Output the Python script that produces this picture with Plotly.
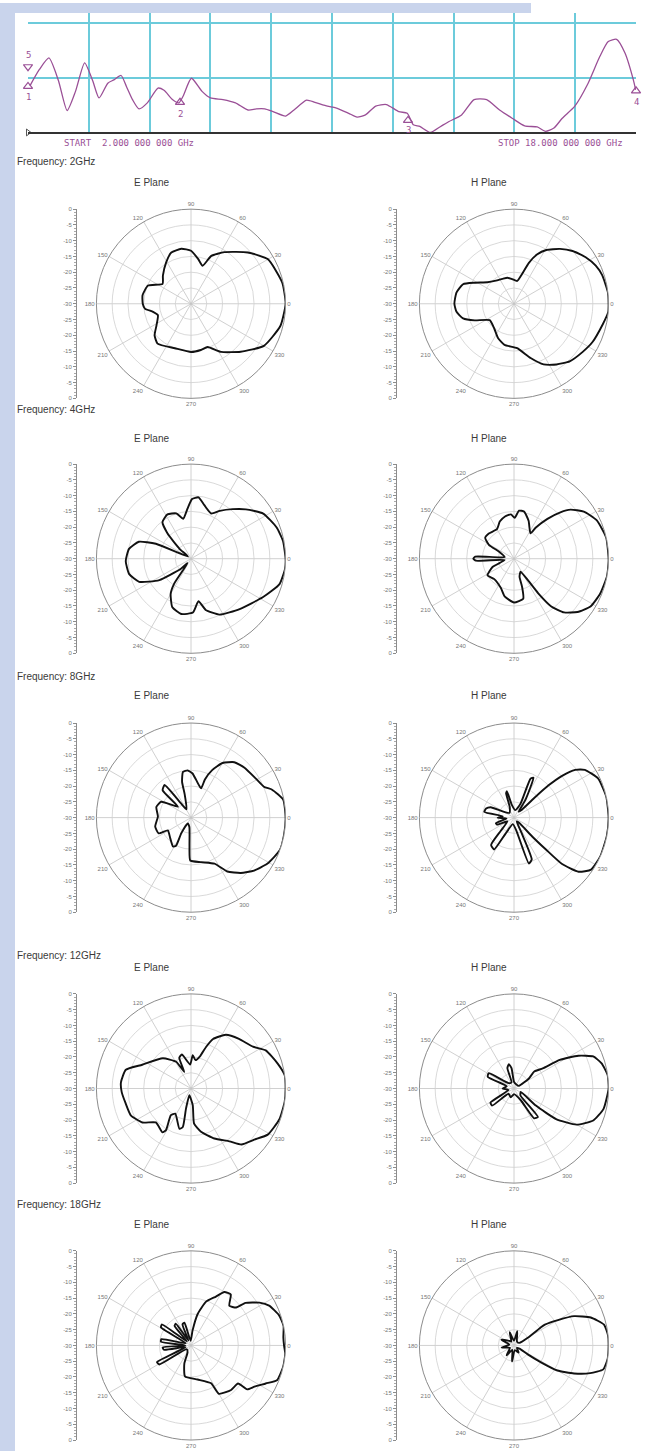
import plotly.graph_objects as go

W, H = 655, 1454

# ---------------- data: VSWR sweep (2-18 GHz) ----------------
VSWR_FREQ_GHZ = [2.05, 2.3, 2.55, 2.8, 3.03, 3.25, 3.49, 3.7, 3.87, 4.1,
                 4.26, 4.45, 4.59, 4.75, 4.92, 5.14, 5.42, 5.58, 5.8, 5.97,
                 6.08, 6.3, 6.58, 6.8, 7.13, 7.46, 7.79, 8.01, 8.23, 8.45,
                 8.78, 9.0, 9.33, 9.55, 9.88, 10.1, 10.44, 10.66, 10.88, 11.15,
                 11.43, 11.76, 11.98, 12.14, 12.31, 12.59, 12.86, 13.08, 13.41, 13.74,
                 14.07, 14.41, 14.74, 15.07, 15.4, 15.62, 15.84, 16.06, 16.39, 16.72,
                 17.05, 17.27, 17.49, 17.71, 17.93, 17.99]
VSWR = [1.85, 2.15, 2.36, 1.95, 1.40, 1.75, 2.27, 1.95, 1.63, 1.90,
        1.96, 2.04, 1.84, 1.60, 1.43, 1.54, 1.81, 1.77, 1.60, 1.54,
        1.66, 1.99, 1.75, 1.63, 1.60, 1.54, 1.41, 1.43, 1.43, 1.38,
        1.30, 1.41, 1.59, 1.55, 1.48, 1.45, 1.35, 1.28, 1.32, 1.48,
        1.51, 1.38, 1.35, 1.14, 1.11, 1.00, 1.11, 1.20, 1.32, 1.60,
        1.60, 1.41, 1.26, 1.12, 1.10, 1.02, 1.08, 1.26, 1.48, 1.87,
        2.39, 2.66, 2.70, 2.45, 1.96, 1.78]
VSWR_GRID_FREQ = [2.0, 3.6, 5.2, 6.8, 8.4, 10.0, 11.6, 13.2, 14.8, 16.4, 18.0]
VSWR_GRID_LEVELS = [2.0, 3.0]
MARKER_FREQ = [2.0, 2.0, 6.0, 12.0, 18.0]
MARKER_VSWR = [2.20, 1.84, 1.55, 1.22, 1.76]
MARKER_LABEL = ["5", "1", "2", "3", "4"]
START_LABEL = "START  2.000 000 000 GHz"
STOP_LABEL = "STOP 18.000 000 000 GHz"

# ---------------- data: radiation patterns (deg, dB) ----------------
FREQ_TITLES = ["Frequency: 2GHz", "Frequency: 4GHz", "Frequency: 8GHz",
               "Frequency: 12GHz", "Frequency: 18GHz"]
PLANE_TITLES = ["E Plane", "H Plane"]
ANGLE_TICKS = [0, 30, 60, 90, 120, 150, 180, 210, 240, 270, 300, 330]
RING_DB = [-25, -20, -15, -10, -5]
RULER_POS = [-30, -25, -20, -15, -10, -5, 0, 5, 10, 15, 20, 25, 30]
RULER_LABELS = ["0", "-5", "-10", "-15", "-20", "-25", "-30",
                "-25", "-20", "-15", "-10", "-5", "0"]

E2_THETA = [0, 13, 30, 42, 57, 67, 73, 81, 90, 100, 111, 121, 135, 145, 157, 170, 180, 186,
            192, 199, 212, 221, 230, 250, 270, 282, 291, 302, 316, 330, 346, 360]
E2_DB = [0, -0.3, -1.8, -5.7, -10.5, -13.5, -17.4, -15.6, -13.2, -12.3, -12.6, -14.7, -17.4,
         -19.0, -15.2, -14.4, -14.7, -15.3, -17.7, -18.9, -17.1, -14.7, -13.5, -15.0, -14.7,
         -15.0, -15.3, -12.0, -8.1, -3.3, -0.8, 0]

H2_THETA = [0, 7, 18, 25, 33, 42, 50, 59, 65, 70, 75, 82, 94, 104, 115, 128, 141, 152, 159,
            169, 180, 188, 196, 203, 214, 231, 245, 257, 274, 287, 296, 305, 314, 325, 334,
            347, 355, 360]
H2_DB = [0, 0, -0.6, -1.4, -2.9, -5.0, -7.3, -10.1, -12.8, -16.2, -20.3, -22.7, -22.2, -21.5,
         -21.3, -20.7, -19.2, -15.8, -12.7, -11.4, -11.1, -11.6, -13.2, -16.5, -20.7, -20.0,
         -18.0, -16.6, -15.9, -12.0, -8.6, -6.5, -4.6, -3.4, -2.3, -1.1, 0, 0]

E4_THETA = [0, 11, 20, 32, 42, 50, 59, 66, 76, 83, 89, 94, 101, 108, 118, 128, 133, 139, 145,
            157, 162, 171, 182, 194, 204, 214, 225, 232, 236, 240, 249, 260, 272, 280, 286,
            297, 314, 332, 344, 354, 360]
E4_DB = [0, -0.3, -1.1, -3.0, -6.6, -9.5, -12.3, -14.3, -12.5, -10.4, -11.1, -14.1, -17.1,
         -14.9, -14.1, -15.3, -19.1, -25.2, -28.8, -17.9, -12.6, -10.1, -9.3, -9.8, -12.0,
         -17.9, -25.5, -28.2, -20.4, -17.1, -13.5, -12.2, -12.9, -16.3, -13.1, -10.1, -7.8,
         -4.1, -0.8, 0, 0]

H4_THETA = [0, 13, 25, 34, 41, 45, 50, 55, 57, 69, 78, 84, 89, 94, 102, 111, 120, 135, 144,
            151, 155, 170, 177, 180, 183, 188, 201, 212, 226, 246, 256, 270, 283, 286, 287,
            297, 303, 305, 308, 313, 320, 328, 338, 349, 357, 360]
H4_DB = [0, 0, -1.1, -3.3, -6.3, -9.2, -13.5, -17.9, -20.4, -17.1, -14.7, -14.7, -17.0,
         -15.9, -16.3, -17.4, -19.2, -18.7, -18.7, -20.9, -24.9, -27.0, -17.7, -17.1, -17.9,
         -27.0, -22.7, -20.1, -21.0, -19.8, -17.7, -16.1, -17.0, -20.7, -24.0, -25.4, -21.6,
         -16.6, -10.8, -6.7, -3.7, -1.4, -0.5, 0, 0, 0]

E8_THETA = [0, 11, 19, 23, 31, 43, 52, 60, 66, 70, 71, 82, 88, 94, 100, 104, 105, 118, 125,
            129, 136, 140, 152, 163, 178, 194, 206, 209, 225, 238, 242, 238, 240, 260, 267,
            269, 283, 297, 304, 312, 320, 329, 340, 350, 360]
E8_DB = [0, -0.2, -2.8, -4.9, -6.0, -6.8, -7.7, -10.0, -13.5, -17.1, -20.2, -18.0, -16.0,
         -15.0, -15.3, -18.3, -22.1, -27.0, -24.6, -16.7, -17.5, -24.6, -19.3, -18.5, -19.5,
         -18.3, -18.6, -21.6, -20.7, -19.2, -19.9, -24.2, -27.9, -27.0, -20.8, -16.4, -15.5,
         -13.6, -9.4, -6.4, -3.9, -1.7, 0, 0, 0]

H8_THETA = [0, 13, 25, 34, 38, 41, 43, 44, 45, 52, 57, 64, 67, 65, 80, 100, 105, 108, 112,
            135, 156, 162, 169, 173, 180, 188, 197, 203, 210, 225, 230, 238, 242, 260, 281,
            288, 293, 296, 305, 314, 314, 315, 316, 320, 326, 336, 349, 360]
H8_DB = [0, 0, -0.6, -2.9, -5.4, -9.8, -15.0, -20.6, -26.3, -27.6, -23.4, -15.9, -16.6,
         -25.1, -27.6, -25.8, -21.3, -21.9, -26.4, -27.9, -21.9, -20.7, -20.4, -26.4, -24.8,
         -27.6, -24.0, -24.3, -27.6, -24.0, -18.7, -18.1, -24.0, -27.9, -25.5, -14.7, -15.6,
         -24.0, -28.5, -27.8, -21.7, -15.8, -8.8, -3.3, -0.5, 0, 0, 0]

E12_THETA = [0, 8, 16, 27, 34, 46, 57, 66, 70, 74, 81, 87, 92, 105, 111, 112, 119, 133, 154,
             164, 175, 183, 192, 204, 215, 224, 237, 239, 233, 238, 254, 258, 256, 256, 276,
             275, 283, 295, 306, 312, 321, 329, 341, 352, 360]
E12_DB = [0, 0, -1.4, -3.4, -6.3, -8.1, -9.7, -12.8, -15.9, -19.2, -20.9, -19.4, -22.4,
          -18.8, -19.6, -24.3, -20.3, -16.9, -12.8, -8.5, -7.7, -8.0, -8.7, -9.1, -11.2,
          -14.5, -13.4, -14.6, -19.4, -20.6, -16.7, -17.5, -23.5, -27.8, -24.7, -18.8, -15.9,
          -12.5, -9.3, -6.1, -4.2, -1.6, -0.3, 0, 0]

H12_THETA = [0, 8, 16, 22, 27, 32, 35, 40, 34, 28, 60, 90, 97, 102, 108, 112, 135, 149, 156,
             162, 180, 195, 211, 218, 224, 250, 270, 300, 304, 310, 313, 333, 322, 324, 330,
             338, 347, 360]
H12_DB = [0, 0, -1.1, -2.9, -7.1, -12.9, -18.9, -21.6, -24.3, -28.2, -28.5, -27.9, -23.5,
          -22.1, -23.2, -27.9, -27.6, -20.6, -20.9, -27.6, -26.4, -28.2, -21.3, -21.2, -27.6,
          -27.0, -28.2, -25.7, -18.6, -18.2, -27.0, -27.6, -21.2, -13.5, -7.1, -2.9, -0.9, 0]

E18_THETA = [0, 5, 12, 19, 27, 32, 38, 40, 46, 52, 58, 63, 71, 78, 84, 95, 106, 112, 118, 125,
             130, 136, 144, 149, 157, 168, 173, 180, 184, 189, 197, 206, 211, 220, 243, 250,
             259, 281, 298, 300, 312, 321, 322, 327, 333, 338, 347, 355, 360]
E18_DB = [-0.5, -0.6, 0, -0.5, -2.2, -4.4, -8.1, -11.3, -12.5, -9.5, -10.0, -12.6, -15.3,
          -19.8, -25.2, -28.5, -22.5, -22.8, -28.2, -21.6, -21.9, -28.2, -18.6, -18.9, -28.2,
          -20.4, -20.4, -28.2, -21.0, -21.3, -28.2, -18.0, -18.3, -28.2, -27.6, -23.8, -20.0,
          -19.0, -16.4, -12.3, -11.0, -10.8, -7.4, -6.0, -3.4, -0.6, 0, 0, -0.5]

H18_THETA = [0, 6, 13, 20, 26, 30, 34, 34, 33, 29, 25, 45, 60, 77, 90, 108, 125, 140, 155,
             170, 190, 210, 233, 248, 263, 280, 303, 320, 330, 327, 328, 330, 335, 340, 345,
             352, 360]
H18_DB = [0, 0, -0.7, -4.1, -8.8, -13.9, -18.2, -19.7, -21.3, -25.0, -28.1, -28.5, -28.2,
          -25.4, -28.5, -25.6, -28.5, -27.6, -25.6, -28.5, -26.0, -28.5, -26.1, -28.5, -24.9,
          -28.5, -27.3, -28.8, -28.0, -24.8, -19.9, -14.1, -9.0, -4.3, -0.7, 0, 0]

PATTERNS = [
    [(E2_THETA, E2_DB), (H2_THETA, H2_DB)],
    [(E4_THETA, E4_DB), (H4_THETA, H4_DB)],
    [(E8_THETA, E8_DB), (H8_THETA, H8_DB)],
    [(E12_THETA, E12_DB), (H12_THETA, H12_DB)],
    [(E18_THETA, E18_DB), (H18_THETA, H18_DB)],
]

# ---------------- layout geometry (pixels) ----------------
ROW_CY = [302, 558, 818, 1090, 1348]
COL_CX = [191, 514]
RAD = 95
RULER_X = [77, 397]
PLANE_TITLE_X = [151, 489]
FREQ_TITLE_Y = [159, 408, 676, 956, 1206]
PLANE_TITLE_Y = [180, 437, 695, 968, 1227]
VSWR_BOX = (28, 636, 10, 130)   # left, right, top, bottom

PURPLE = "#9a4f96"
CYAN = "#6ccbdb"
TXT = "#3a3a3a"


def fx(px):
    return px / W


def fy(py):
    return 1 - py / H


fig = go.Figure()

# ---- VSWR sweep ----
fig.add_trace(go.Scatter(x=VSWR_FREQ_GHZ, y=VSWR, mode="lines",
                         line=dict(color=PURPLE, width=1.3, shape="spline", smoothing=0.6),
                         hoverinfo="skip", showlegend=False, xaxis="x", yaxis="y"))
up_syms = ["triangle-down-open", "triangle-up-open", "triangle-up-open",
           "triangle-up-open", "triangle-up-open"]
fig.add_trace(go.Scatter(x=MARKER_FREQ, y=MARKER_VSWR, mode="markers",
                         marker=dict(symbol=up_syms, size=8, color=PURPLE, line=dict(width=1.2)),
                         cliponaxis=False, hoverinfo="skip", showlegend=False,
                         xaxis="x", yaxis="y"))
fig.add_trace(go.Scatter(x=[VSWR_GRID_FREQ[0]], y=[1.0], mode="markers",
                         marker=dict(symbol="triangle-right-open", size=6, color="#555"),
                         cliponaxis=False, hoverinfo="skip", showlegend=False,
                         xaxis="x", yaxis="y"))

x0, x1, yt, yb = VSWR_BOX
layout = dict(
    width=W, height=H, autosize=False,
    margin=dict(l=0, r=0, t=0, b=0, pad=0),
    paper_bgcolor="white", plot_bgcolor="white",
    showlegend=False,
    font=dict(family="Liberation Sans, Arial, sans-serif", color=TXT),
    xaxis=dict(domain=[fx(x0), fx(x1)], range=[2, 18], tickmode="array",
               tickvals=VSWR_GRID_FREQ, showticklabels=False, ticks="",
               showgrid=True, gridcolor=CYAN, gridwidth=2, zeroline=False,
               showline=True, linecolor="#333", linewidth=1.5, anchor="y",
               fixedrange=True),
    yaxis=dict(domain=[fy(yb), fy(yt)], range=[1.0, 1.0 + 2.0 * (yb - yt) / 110],
               tickmode="array", tickvals=VSWR_GRID_LEVELS, showticklabels=False,
               ticks="", showgrid=True, gridcolor=CYAN, gridwidth=2,
               zeroline=False, showline=False, anchor="x", fixedrange=True),
)

annotations = []
shapes = [
    # slide background strips
    dict(type="rect", xref="paper", yref="paper", x0=0, x1=fx(15), y0=0, y1=1,
         fillcolor="#c9d4ec", line=dict(width=0), layer="below"),
    dict(type="rect", xref="paper", yref="paper", x0=0, x1=fx(531), y0=fy(10), y1=1,
         fillcolor="#c9d4ec", line=dict(width=0), layer="below"),
]

# marker labels on sweep
label_dy = [-12, 11, 12, 10, 11]
for f, v, lab, dy in zip(MARKER_FREQ, MARKER_VSWR, MARKER_LABEL, label_dy):
    annotations.append(dict(x=f, y=v, xref="x", yref="y", text=lab, showarrow=False,
                            yshift=-dy, font=dict(size=9, color=PURPLE,
                                                  family="DejaVu Sans Mono")))
annotations.append(dict(x=fx(62), y=fy(141), xref="paper", yref="paper", text=START_LABEL,
                        showarrow=False, xanchor="left", yanchor="middle",
                        font=dict(size=9, color=PURPLE, family="DejaVu Sans Mono")))
annotations.append(dict(x=fx(625), y=fy(141), xref="paper", yref="paper", text=STOP_LABEL,
                        showarrow=False, xanchor="right", yanchor="middle",
                        font=dict(size=9, color=PURPLE, family="DejaVu Sans Mono")))

# ---- radiation patterns ----
k = 0
for r, row in enumerate(PATTERNS):
    cy = ROW_CY[r]
    annotations.append(dict(x=fx(15), y=fy(FREQ_TITLE_Y[r]), xref="paper", yref="paper",
                            text=FREQ_TITLES[r], showarrow=False, xanchor="left",
                            yanchor="middle", font=dict(size=10, color=TXT)))
    for c, (th, db) in enumerate(row):
        k += 1
        cx = COL_CX[c]
        pname = "polar" if k == 1 else f"polar{k}"
        fig.add_trace(go.Scatterpolar(theta=th, r=db, mode="lines", subplot=pname,
                                      line=dict(color="#111", width=1.9, shape="spline",
                                                smoothing=0.5),
                                      hoverinfo="skip", showlegend=False))
        layout[pname] = dict(
            domain=dict(x=[fx(cx - RAD), fx(cx + RAD)], y=[fy(cy + RAD), fy(cy - RAD)]),
            bgcolor="white",
            radialaxis=dict(range=[-30, 0], tickmode="array", tickvals=RING_DB,
                            showticklabels=False, ticks="", showline=False,
                            gridcolor="#cfcfcf", gridwidth=0.8),
            angularaxis=dict(tickmode="array", tickvals=ANGLE_TICKS,
                             ticktext=[str(a) for a in ANGLE_TICKS],
                             direction="counterclockwise", rotation=0, ticks="",
                             tickfont=dict(size=6, color="#777"),
                             gridcolor="#c4c4c4", gridwidth=0.8,
                             showline=True, linecolor="#8c8c8c", linewidth=1),
        )
        annotations.append(dict(x=fx(PLANE_TITLE_X[c]), y=fy(PLANE_TITLE_Y[r]),
                                xref="paper", yref="paper", text=PLANE_TITLES[c],
                                showarrow=False, xanchor="center", yanchor="middle",
                                font=dict(size=10, color=TXT)))
        # dB ruler beside each pattern
        ai = k + 1
        rx = RULER_X[c]
        layout[f"xaxis{ai}"] = dict(domain=[fx(rx), fx(rx + 2)], range=[0, 1],
                                    visible=False, anchor=f"y{ai}", fixedrange=True)
        layout[f"yaxis{ai}"] = dict(domain=[fy(cy + RAD), fy(cy - RAD)], range=[-30, 30],
                                    tickmode="array", tickvals=RULER_POS,
                                    ticktext=RULER_LABELS, anchor=f"x{ai}", side="left",
                                    showline=True, linecolor="#8c8c8c", linewidth=1,
                                    ticks="outside", ticklen=3, tickcolor="#8c8c8c",
                                    tickfont=dict(size=6, color="#777"),
                                    minor=dict(dtick=1, tick0=0, ticks="outside",
                                               ticklen=2, tickcolor="#aaaaaa"),
                                    showgrid=False, zeroline=False, fixedrange=True)
        fig.add_trace(go.Scatter(x=[0.5], y=[0], mode="markers",
                                 marker=dict(opacity=0, size=1), hoverinfo="skip",
                                 showlegend=False, xaxis=f"x{ai}", yaxis=f"y{ai}"))

layout["annotations"] = annotations
layout["shapes"] = shapes
fig.update_layout(**layout)
fig.write_html("out.html",
               config={"displayModeBar": False, "staticPlot": True},
               post_script="document.body.style.margin='0px';"
                           "document.body.style.padding='0px';"
                           "document.body.style.overflow='hidden';")
